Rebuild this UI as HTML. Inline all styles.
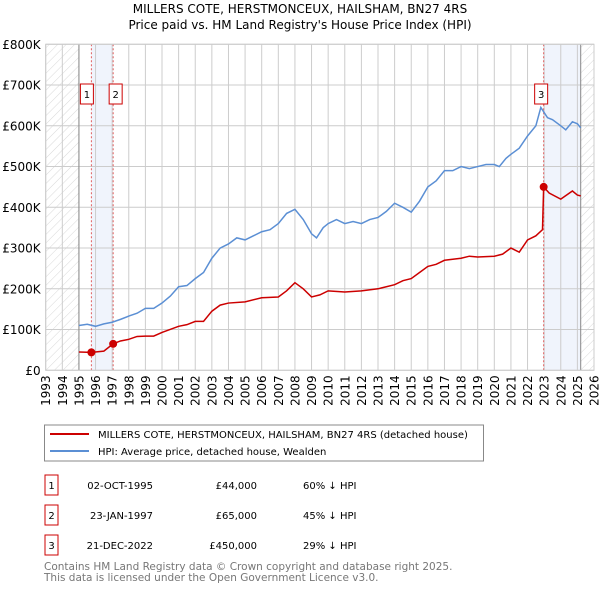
<!DOCTYPE html>
<html><head><meta charset="utf-8"><style>
body{margin:0;background:#fff;font-family:"Liberation Sans","DejaVu Sans",sans-serif;}
svg text{font-family:"DejaVu Sans","Liberation Sans",sans-serif;}
</style></head><body>
<svg id="c" width="600" height="590" xmlns="http://www.w3.org/2000/svg">
<defs><pattern id="h" patternUnits="userSpaceOnUse" width="6" height="6" patternTransform="rotate(45)"><line x1="0" y1="0" x2="0" y2="6" stroke="#d8d8d8" stroke-width="1"/></pattern></defs>
<text x="300" y="13" text-anchor="middle" font-size="12">MILLERS COTE, HERSTMONCEUX, HAILSHAM, BN27 4RS</text>
<text x="300" y="29" text-anchor="middle" font-size="12">Price paid vs. HM Land Registry's House Price Index (HPI)</text>
<g id="plot"></g>
<rect x="44.5" y="425" width="439" height="36" fill="none" stroke="#888"/>
<line x1="50" y1="434" x2="89" y2="434" stroke="#cc0000" stroke-width="2"/>
<text x="98" y="438" font-size="10">MILLERS COTE, HERSTMONCEUX, HAILSHAM, BN27 4RS (detached house)</text>
<line x1="50" y1="451" x2="89" y2="451" stroke="#5b8fd4" stroke-width="2"/>
<text x="98" y="455" font-size="10">HPI: Average price, detached house, Wealden</text>
<g id="tbl" font-size="10"></g>
<text x="44" y="570" font-size="10.5" fill="#777">Contains HM Land Registry data © Crown copyright and database right 2025.</text>
<text x="44" y="581" font-size="10.5" fill="#777">This data is licensed under the Open Government Licence v3.0.</text>
</svg>
<script>
const hpiYears=[1995,1995.5,1996,1996.5,1997,1997.5,1998,1998.5,1999,1999.5,2000,2000.5,2001,2001.5,2002,2002.5,2003,2003.5,2004,2004.5,2005,2005.5,2006,2006.5,2007,2007.5,2008,2008.5,2009,2009.3,2009.7,2010,2010.5,2011,2011.5,2012,2012.5,2013,2013.5,2014,2014.5,2015,2015.5,2016,2016.5,2017,2017.5,2018,2018.5,2019,2019.5,2020,2020.3,2020.7,2021,2021.5,2022,2022.5,2022.8,2023.2,2023.5,2024,2024.3,2024.7,2025,2025.2];
const hpiValues=[110,113,108,114,118,125,133,140,152,152,165,182,205,208,225,240,275,300,310,325,320,330,340,345,360,385,395,370,335,325,350,360,370,360,365,360,370,375,390,410,400,388,415,450,465,490,490,500,495,500,505,505,500,520,530,545,575,600,645,620,615,600,590,610,605,595];
const priceYears=[1995,1995.75,1996.5,1997.06,1997.5,1998,1998.5,1999,1999.5,2000,2001,2001.5,2002,2002.5,2003,2003.5,2004,2005,2006,2007,2007.5,2008,2008.5,2009,2009.5,2010,2011,2012,2013,2014,2014.5,2015,2015.5,2016,2016.5,2017,2018,2018.5,2019,2020,2020.5,2021,2021.5,2022,2022.5,2022.9,2022.97,2023.3,2024,2024.7,2025,2025.2];
const priceValues=[45,44,47,65,72,76,83,84,84,93,108,112,120,120,145,160,165,168,178,180,195,215,200,180,185,195,192,195,200,210,220,225,240,255,260,270,275,280,278,280,285,300,290,320,330,345,450,435,420,440,430,428];
const saleYears=[1995.75,1997.06,2022.97];
const saleValues=[44,65,450];
const saleLabels=["1","2","3"];
const saleDates=["02-OCT-1995","23-JAN-1997","21-DEC-2022"];
const salePrices=["£44,000","£65,000","£450,000"];
const saleDiffs=["60% ↓ HPI","45% ↓ HPI","29% ↓ HPI"];
const yTicks=[0,100,200,300,400,500,600,700,800];
const yTickLabels=["£0","£100K","£200K","£300K","£400K","£500K","£600K","£700K","£800K"];
const xTicks=[];for(let y=1993;y<=2026;y++)xTicks.push(y);

const X0=45.7,X1=594,Y0=370.3,Y1=44.3;
const x=v=>X0+(v-1993)/(2026-1993)*(X1-X0);
const y=v=>Y0-(v/800)*(Y0-Y1);
const NS="http://www.w3.org/2000/svg";
const g=document.getElementById('plot');
function mk(tag,attrs,parent){const e=document.createElementNS(NS,tag);for(const k in attrs)e.setAttribute(k,attrs[k]);(parent||g).appendChild(e);return e;}
let e;
e=mk('rect',{x:X0,y:Y1,width:x(1995)-X0,height:Y0-Y1,fill:'url(#h)'});


e=mk('rect',{x:x(2025.2),y:Y1,width:X1-x(2025.2),height:Y0-Y1,fill:'url(#h)'});


e=mk('rect',{x:x(saleYears[0]),y:Y1,width:x(saleYears[1])-x(saleYears[0]),height:Y0-Y1,fill:'#f0f4fc'});


e=mk('rect',{x:x(saleYears[2]),y:Y1,width:x(2025.2)-x(saleYears[2]),height:Y0-Y1,fill:'#f0f4fc'});


xTicks.forEach(t=>{
 e=mk('line',{x1:x(t),x2:x(t),y1:Y1,y2:Y0,stroke:'#ccc'});
 
 
 e=mk('text',{x:0,y:0,transform:`translate(${x(t)+4.5},${Y0+5}) rotate(-90)`,'text-anchor':'end','font-size':'12'});
 e.textContent=t;
 
 
});
yTicks.forEach((t,i)=>{
 e=mk('line',{x1:X0,x2:X1,y1:y(t),y2:y(t),stroke:'#ccc'});
 
 
 e=mk('text',{x:X0-5,y:y(t)+4.5,'text-anchor':'end','font-size':'12'});
 e.textContent=yTickLabels[i];
 
 
});
[1995,2025.2].forEach(t=>{e=mk('line',{x1:x(t),x2:x(t),y1:Y1,y2:Y0,stroke:'#888'});
 
 });
saleYears.forEach(t=>{e=mk('line',{x1:x(t),x2:x(t),y1:Y1,y2:Y0,stroke:'#e06060','stroke-dasharray':'2,2'});
 
 });
e=mk('polyline',{points:hpiYears.map((t,i)=>x(t)+','+y(hpiValues[i])).join(' '),fill:'none',stroke:'#5b8fd4','stroke-width':1.5});


e=mk('polyline',{points:priceYears.map((t,i)=>x(t)+','+y(priceValues[i])).join(' '),fill:'none',stroke:'#cc0000','stroke-width':1.5});


saleYears.forEach((t,i)=>{
 e=mk('circle',{cx:x(t),cy:y(saleValues[i]),r:4,fill:'#cc0000'});
 
 
 const bx=x(t)+(i==0?-11:i==1?-4:-9);
 e=mk('rect',{x:bx,y:84,width:13,height:20,fill:'#fff',stroke:'#cc0000'});
 
 
 e=mk('text',{x:bx+6.5,y:98,'text-anchor':'middle','font-size':'10'});
 e.textContent=saleLabels[i];
 
 
});
e=mk('rect',{x:X0,y:Y1,width:X1-X0,height:Y0-Y1,fill:'none',stroke:'#ccc'});


const tb=document.getElementById('tbl');
saleLabels.forEach((l,i)=>{
 const cy=485+i*30;
 e=mk('rect',{x:45,y:cy-10,width:13,height:20,fill:'#fff',stroke:'#cc0000'},tb);
 
 
 e=mk('text',{x:51.5,y:cy+4,'text-anchor':'middle'},tb);e.textContent=l;
 
 
 e=mk('text',{x:153,y:cy+4,'text-anchor':'end'},tb);e.textContent=saleDates[i];
 
 
 e=mk('text',{x:257,y:cy+4,'text-anchor':'end'},tb);e.textContent=salePrices[i];
 
 
 e=mk('text',{x:303,y:cy+4},tb);e.textContent=saleDiffs[i];
 
 
});
</script>
</body></html>
